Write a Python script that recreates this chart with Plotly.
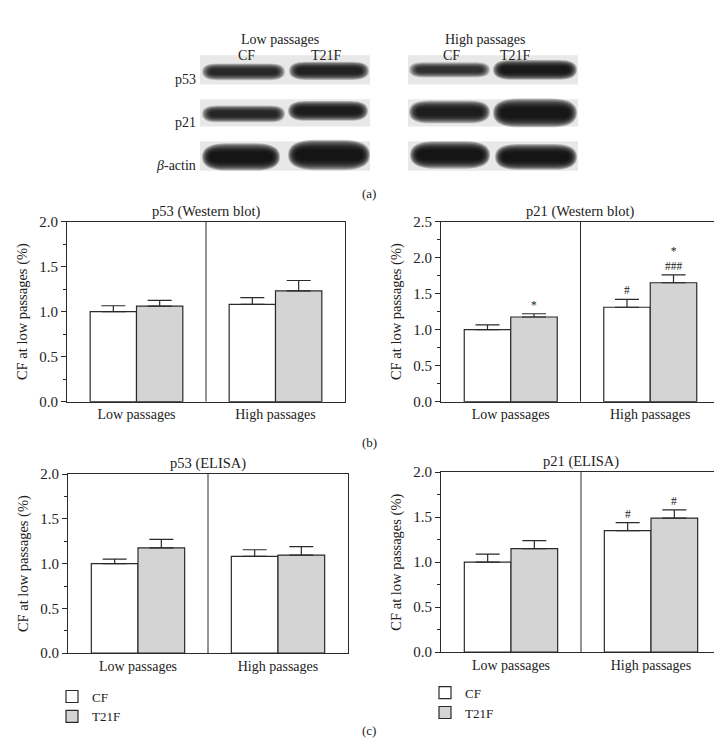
import plotly.graph_objects as go

W, H = 722, 754
FONT = "Liberation Serif"

groups = ["Low passages", "High passages"]

# (b) Western blot densitometry
p53_wb_cf = [1.00, 1.08]
p53_wb_cf_err = [0.065, 0.075]
p53_wb_t21 = [1.06, 1.23]
p53_wb_t21_err = [0.065, 0.115]

p21_wb_cf = [1.00, 1.31]
p21_wb_cf_err = [0.065, 0.11]
p21_wb_t21 = [1.175, 1.65]
p21_wb_t21_err = [0.045, 0.11]
p21_wb_cf_sig = ["", "#"]
p21_wb_t21_sig = ["*", "*<br>###"]

# (c) ELISA
p53_el_cf = [1.00, 1.08]
p53_el_cf_err = [0.05, 0.075]
p53_el_t21 = [1.175, 1.095]
p53_el_t21_err = [0.095, 0.095]

p21_el_cf = [1.00, 1.35]
p21_el_cf_err = [0.09, 0.09]
p21_el_t21 = [1.15, 1.49]
p21_el_t21_err = [0.09, 0.09]
p21_el_cf_sig = ["", "#"]
p21_el_t21_sig = ["", "#"]


def px(x):
    return x / W


def py(y):
    return 1 - y / H


panels = [
    # title, cf, cf_err, t21, t21_err, cf_sig, t21_sig, ymax, x-domain px, y-domain px, legend
    ("p53 (Western blot)", p53_wb_cf, p53_wb_cf_err, p53_wb_t21, p53_wb_t21_err, None, None, 2.0, (59, 337), (210, 394), None),
    ("p21 (Western blot)", p21_wb_cf, p21_wb_cf_err, p21_wb_t21, p21_wb_t21_err, p21_wb_cf_sig, p21_wb_t21_sig, 2.5, (433, 712), (210, 394), None),
    ("p53 (ELISA)", p53_el_cf, p53_el_cf_err, p53_el_t21, p53_el_t21_err, None, None, 2.0, (60, 340), (468, 651), "legend"),
    ("p21 (ELISA)", p21_el_cf, p21_el_cf_err, p21_el_t21, p21_el_t21_err, p21_el_cf_sig, p21_el_t21_sig, 2.0, (433, 713), (466, 650), "legend2"),
]

fig = go.Figure()
annotations = []
shapes = []
layout = {}

for i, (title, cf, cf_err, t21, t21_err, cf_sig, t21_sig, ymax, xd, yd, leg) in enumerate(panels):
    n = i + 1
    xa = "x" if n == 1 else f"x{n}"
    ya = "y" if n == 1 else f"y{n}"
    for name, vals, errs, pos, color in [("CF", cf, cf_err, [1, 4], "white"),
                                         ("T21F", t21, t21_err, [2, 5], "#d4d4d4")]:
        fig.add_trace(go.Bar(
            x=pos, y=vals, width=1, name=name,
            marker=dict(color=color, line=dict(color="#2a2a2a", width=1.2)),
            error_y=dict(type="data", array=errs, arrayminus=[0, 0], symmetric=False,
                         color="#2a2a2a", thickness=1.2, width=12),
            xaxis=xa, yaxis=ya,
            showlegend=leg is not None,
            legend=leg if leg else "legend",
        ))
    layout[f"xaxis{'' if n == 1 else n}"] = dict(
        domain=[px(xd[0]), px(xd[1])], anchor=ya, range=[0, 6],
        tickvals=[1.5, 4.5], ticktext=groups, ticks="",
        showline=True, mirror=True, linecolor="#2a2a2a", linewidth=1,
        showgrid=False, zeroline=False, tickfont=dict(size=14),
    )
    layout[f"yaxis{'' if n == 1 else n}"] = dict(
        domain=[py(yd[1]), py(yd[0])], anchor=xa, range=[0, ymax],
        dtick=0.5, tickformat=".1f", ticks="outside", ticklen=5, tickcolor="#2a2a2a",
        minor=dict(dtick=0.25, ticks="outside", ticklen=3, tickcolor="#2a2a2a", showgrid=False),
        showline=True, mirror=True, linecolor="#2a2a2a", linewidth=1,
        showgrid=False, zeroline=False, tickfont=dict(size=15),
        title=dict(text="CF at low passages (%)", font=dict(size=14.5), standoff=8),
    )
    # divider between passage groups
    shapes.append(dict(type="line", xref=xa, yref=f"{ya} domain", x0=3, x1=3, y0=0, y1=1,
                       line=dict(color="#2a2a2a", width=1)))
    annotations.append(dict(text=title, xref=f"{xa} domain", yref=f"{ya} domain", x=0.5, y=1,
                            yanchor="bottom", showarrow=False, yshift=0, font=dict(size=14.5)))
    for sig, vals, errs, pos in [(cf_sig, cf, cf_err, [1, 4]), (t21_sig, t21, t21_err, [2, 5])]:
        if not sig:
            continue
        for s, v, e, p in zip(sig, vals, errs, pos):
            if s:
                annotations.append(dict(text=s, xref=xa, yref=ya, x=p, y=v + e, yanchor="bottom",
                                        showarrow=False, yshift=1, font=dict(size=11.5)))

# panel letters
for lab, yy in [("(a)", 172), ("(b)", 436), ("(c)", 740)]:
    annotations.append(dict(text=lab, xref="paper", yref="paper", x=px(361), y=py(yy),
                            showarrow=False, font=dict(size=13)))

# western blot header labels
for lab, xx, yy in [("Low passages", 272, 14), ("High passages", 477, 14),
                    ("CF", 228, 31), ("T21F", 318, 31), ("CF", 443, 31), ("T21F", 525, 31)]:
    annotations.append(dict(text=lab, xref="paper", yref="paper", x=px(xx), y=py(yy),
                            showarrow=False, font=dict(size=14)))
for lab, yy in [("p53", 55), ("p21", 99), ("<i>β</i>-actin", 143)]:
    annotations.append(dict(text=lab, xref="paper", yref="paper", x=px(190), y=py(yy),
                            xanchor="right", showarrow=False, font=dict(size=14)))


def pill(x0, x1, yc, h):
    r = min(h * 0.9, (x1 - x0) / 2)
    y0, y1 = yc - h / 2, yc + h / 2
    pts = [("M", x0 + r, y0), ("L", x1 - r, y0), ("Q", x1, y0, x1, yc), ("Q", x1, y1, x1 - r, y1),
           ("L", x0 + r, y1), ("Q", x0, y1, x0, yc), ("Q", x0, y0, x0 + r, y0)]
    out = []
    for p in pts:
        cmd, coords = p[0], p[1:]
        conv = []
        for k in range(0, len(coords), 2):
            conv.append(f"{px(coords[k]):.5f},{py(coords[k + 1]):.5f}")
        out.append(cmd + " ".join(conv))
    return " ".join(out) + " Z"


# blot membranes
for bx0, bx1 in [(192, 362), (400, 570)]:
    for by0, by1 in [(40, 70), (85, 113), (128, 158)]:
        shapes.append(dict(type="rect", xref="paper", yref="paper", x0=px(bx0), x1=px(bx1),
                           y0=py(by1), y1=py(by0), fillcolor="#e8e8e8", line=dict(width=0),
                           layer="below"))

# bands: x0, x1, y-centre, thickness, darkness
bands = [
    (194, 277, 57, 11, 0.70), (281, 361, 56, 12, 0.80), (401, 482, 55, 10, 0.62), (485, 569, 55, 13, 0.92),
    (194, 277, 100, 11, 0.75), (280, 360, 97, 13, 0.88), (401, 482, 98, 15, 0.86), (485, 569, 99, 19, 0.95),
    (194, 272, 144, 18, 1.0), (280, 362, 142, 20, 1.0), (402, 482, 142, 18, 1.0), (487, 569, 144, 17, 1.0),
]
layers = 10
for x0, x1, yc, h, d in bands:
    for k in range(layers):
        f = k / (layers - 1)
        scale = 1.55 - 1.05 * f
        shrink = 8 * f
        shapes.append(dict(type="path", xref="paper", yref="paper",
                           path=pill(x0 + shrink, x1 - shrink, yc, h * scale),
                           fillcolor="#0d0d0d", opacity=0.26 * d, line=dict(width=0), layer="below"))

fig.update_layout(
    **layout,
    width=W, height=H,
    margin=dict(l=0, r=0, t=0, b=0),
    paper_bgcolor="white", plot_bgcolor="rgba(0,0,0,0)",
    font=dict(family=FONT, size=14, color="#222"),
    barmode="overlay",
    shapes=shapes,
    annotations=annotations,
    legend=dict(x=px(44), y=py(680), xanchor="left", yanchor="top", bgcolor="rgba(0,0,0,0)",
                font=dict(size=13), itemwidth=30, tracegroupgap=0),
    legend2=dict(x=px(417), y=py(676), xanchor="left", yanchor="top", bgcolor="rgba(0,0,0,0)",
                 font=dict(size=13), itemwidth=30, tracegroupgap=0),
)

fig.write_html("out.html")
